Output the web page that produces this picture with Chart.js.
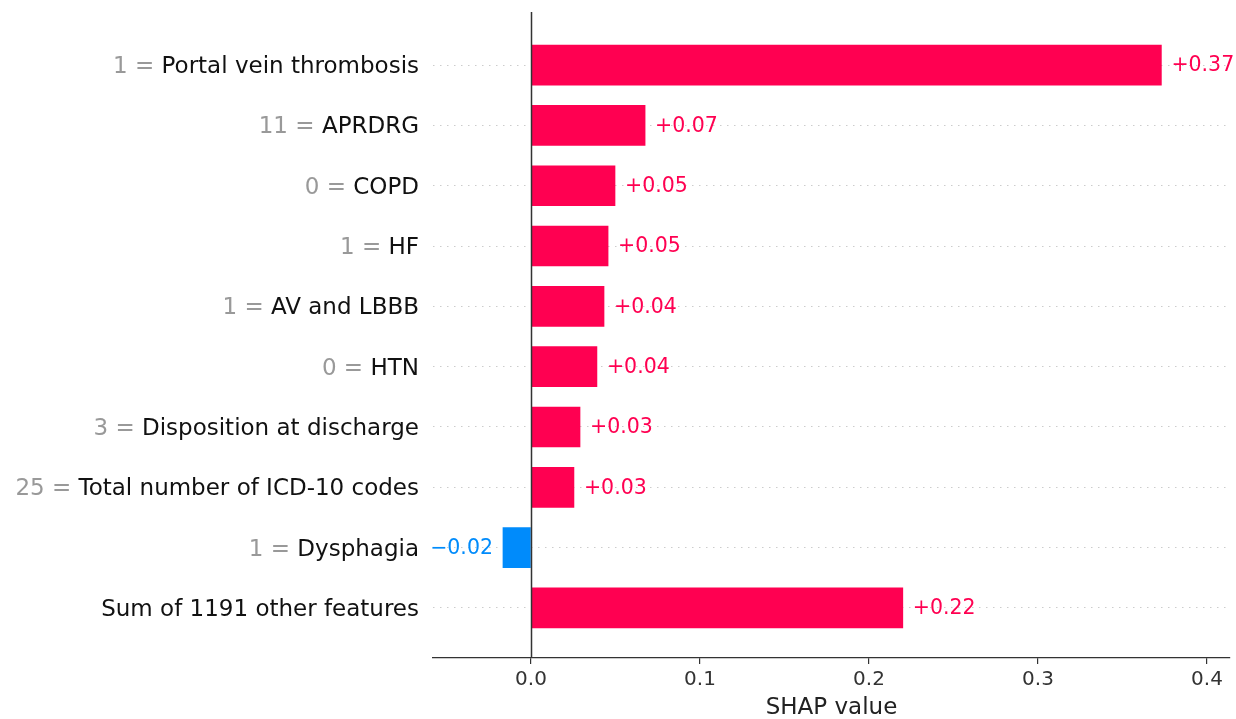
<!DOCTYPE html>
<html>
<head>
<meta charset="utf-8">
<script src="https://cdn.jsdelivr.net/npm/chart.js@4/dist/chart.umd.min.js"></script>
<style>
  html, body { margin: 0; padding: 0; background: #fff; }
  #wrap { width: 1236px; height: 719px; }
</style>
</head>
<body>
<div id="wrap"><canvas id="chart"></canvas></div>
<script>
const featureValues = ['1', '11', '0', '1', '1', '0', '3', '25', '1', ''];
const featureNames = [
  'Portal vein thrombosis', 'APRDRG', 'COPD', 'HF', 'AV and LBBB', 'HTN',
  'Disposition at discharge', 'Total number of ICD-10 codes', 'Dysphagia',
  'Sum of 1191 other features',
];
const shapValues = [0.373, 0.0675, 0.0497, 0.0456, 0.0432, 0.039, 0.029, 0.0254, -0.0166, 0.220];
const xTicks = [0, 0.1, 0.2, 0.3, 0.4];

const RED = '#ff0051';
const BLUE = '#008bfb';
const FONT = "'DejaVu Sans', sans-serif";

const fmt = (v) => (v >= 0 ? '+' : '\u2212') + Math.abs(v).toFixed(2);

// labels left of the axes: grey value + black feature name
const featureLabels = {
  id: 'featureLabels',
  afterDraw(chart) {
    const { ctx, chartArea } = chart;
    const y = chart.scales.y;
    ctx.save();
    ctx.font = `23px ${FONT}`;
    ctx.textBaseline = 'middle';
    ctx.textAlign = 'right';
    const right = chartArea.left - 14;
    featureNames.forEach((name, i) => {
      const py = y.getPixelForValue(i) + 2;
      ctx.fillStyle = '#111';
      ctx.fillText(name, right, py);
      if (featureValues[i] !== '') {
        const w = ctx.measureText(name).width;
        ctx.fillStyle = '#999';
        ctx.fillText(featureValues[i] + ' = ', right - w, py);
      }
    });
    ctx.restore();
  },
};

// zero line and value labels next to each bar
const barExtras = {
  id: 'barExtras',
  afterDatasetsDraw(chart) {
    const { ctx, chartArea } = chart;
    const x = chart.scales.x;
    const y = chart.scales.y;
    ctx.save();
    const x0 = Math.round(x.getPixelForValue(0)) + 0.5;
    ctx.strokeStyle = '#333';
    ctx.lineWidth = 1.5;
    ctx.beginPath();
    ctx.moveTo(x0, chartArea.top);
    ctx.lineTo(x0, chartArea.bottom);
    ctx.stroke();

    ctx.font = `20.5px ${FONT}`;
    ctx.textBaseline = 'middle';
    shapValues.forEach((v, i) => {
      const px = x.getPixelForValue(v);
      const py = y.getPixelForValue(i) + 1;
      if (v >= 0) {
        ctx.fillStyle = RED;
        ctx.textAlign = 'left';
        ctx.fillText(fmt(v), px + 10, py);
      } else {
        ctx.fillStyle = BLUE;
        ctx.textAlign = 'right';
        ctx.fillText(fmt(v), px - 10, py);
      }
    });
    ctx.restore();
  },
};

new Chart(document.getElementById('chart'), {
  type: 'bar',
  data: {
    datasets: [{
      data: shapValues.map((v, i) => ({ x: v, y: i })),
      backgroundColor: shapValues.map((v) => (v >= 0 ? RED : BLUE)),
      barThickness: 40,
      borderWidth: 0,
    }],
  },
  options: {
    indexAxis: 'y',
    responsive: true,
    maintainAspectRatio: false,
    animation: false,
    layout: { padding: { left: 433, right: 6, top: 12, bottom: 0 } },
    plugins: {
      legend: { display: false },
      tooltip: { enabled: false },
    },
    scales: {
      x: {
        type: 'linear',
        min: -0.058,
        max: 0.4136,
        afterBuildTicks: (scale) => {
          scale.ticks = xTicks.map((v) => ({ value: v }));
        },
        afterFit: (scale) => { scale.height = 61; },
        ticks: {
          callback: (v) => Number(v).toFixed(1),
          color: '#333',
          font: { family: FONT, size: 20 },
          padding: 4,
        },
        grid: {
          drawOnChartArea: false,
          drawTicks: true,
          tickLength: 6,
          color: '#333',
          lineWidth: 1.2,
        },
        border: { display: true, color: '#333', width: 1.2 },
        title: {
          display: true,
          text: 'SHAP value',
          color: '#222',
          font: { family: FONT, size: 23 },
          padding: { top: 0, bottom: -3 },
        },
      },
      y: {
        type: 'linear',
        reverse: true,
        offset: false,
        min: -0.88,
        max: 9.83,
        afterBuildTicks: (scale) => {
          scale.ticks = featureNames.map((n, i) => ({ value: i }));
        },
        afterFit: (scale) => { scale.width = 0; },
        ticks: { display: false },
        grid: {
          offset: false,
          drawTicks: false,
          color: '#cccccc',
          lineWidth: 1,
        },
        border: { display: false, dash: [1.5, 5.5] },
      },
    },
  },
  plugins: [featureLabels, barExtras],
});
</script>
</body>
</html>
